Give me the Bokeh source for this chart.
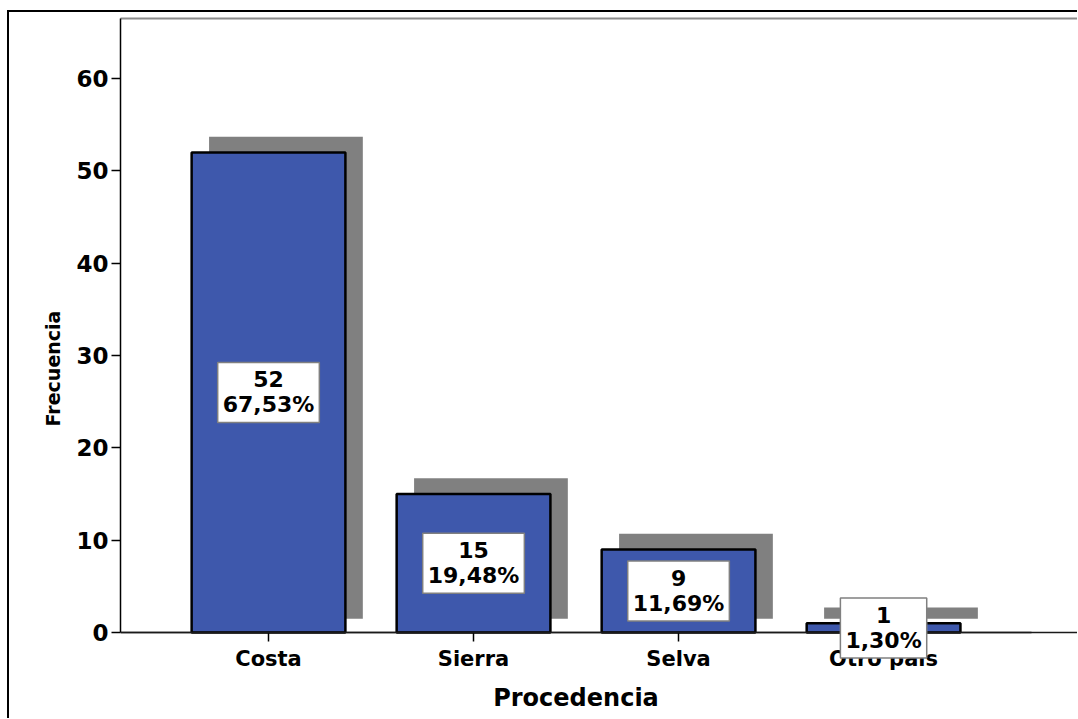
from bokeh.plotting import figure
from bokeh.models import Range1d, Label, FixedTicker, LinearAxis, Span, Title
from bokeh.embed import file_html
from bokeh.resources import INLINE

# Frequency of respondents by place of origin
categories = ["Costa", "Sierra", "Selva", "Otro país"]
counts = [52, 15, 9, 1]
percents = ["67,53%", "19,48%", "11,69%", "1,30%"]
y_ticks = [0, 10, 20, 30, 40, 50, 60]

FONT = "DejaVu Sans"
BAR_BLUE = "#3E58AC"
SHADOW = "#808080"

xs = list(range(len(categories)))
X_START, X_END = -0.722, 3.946
Y_START, Y_END = -9.31, 66.5

p = figure(
    frame_width=957, frame_height=700,
    min_border_left=111, min_border_top=6, min_border_right=0, min_border_bottom=0,
    x_range=Range1d(X_START, X_END), y_range=Range1d(Y_START, Y_END),
    output_backend="svg", toolbar_location=None,
)
p.styles = {
    "border-left": "2px solid #000000",
    "border-top": "2px solid #000000",
    "margin-left": "7px",
    "margin-top": "10px",
}

xa = p.below[0]
ya = p.left[0]

p.xgrid.visible = False
p.ygrid.visible = False
p.outline_line_color = None

# frame edges: dark grey on top, faint grey on the right
top_edge = LinearAxis(ticker=FixedTicker(ticks=[]), axis_line_color="#8c8c8c",
                      axis_line_width=2, major_tick_line_color=None,
                      minor_tick_line_color=None, major_label_text_font_size="0px")
p.add_layout(top_edge, "above")
right_edge = LinearAxis(ticker=FixedTicker(ticks=[]), axis_line_color="#d4d4d4",
                        axis_line_width=1, major_tick_line_color=None,
                        minor_tick_line_color=None, major_label_text_font_size="0px")
p.add_layout(right_edge, "right")

# drop shadows, shifted up and to the right of each bar
p.vbar(x=[x + 0.085 for x in xs], width=0.75,
       bottom=1.5, top=[c + 1.7 for c in counts],
       fill_color=SHADOW, line_color=None)
# bars
p.vbar(x=xs, width=0.75, bottom=0, top=counts,
       fill_color=BAR_BLUE, line_color="#000000", line_width=2.5)

# baseline across the full width of the frame
p.add_layout(Span(location=0, dimension="width", line_color="#1a1a1a", line_width=1.5))

# value boxes centred at half of each bar
for x, c, pct in zip(xs, counts, percents):
    p.add_layout(Label(
        x=x, y=c / 2, text=f"{c}\n{pct}",
        text_align="center", text_baseline="middle",
        text_font=FONT, text_font_style="bold", text_font_size="22px",
        text_color="#000000", text_line_height=1.0,
        background_fill_color="#ffffff",
        border_line_color="#808080", border_line_width=1.5,
        padding=5,
    ))

# x axis sits on the zero line
xa.fixed_location = 0
xa.bounds = (X_START, 2 * 1.5 - X_START)
ya.bounds = (0, Y_END)
xa.ticker = FixedTicker(ticks=xs)
xa.major_label_overrides = {x: c for x, c in zip(xs, categories)}
ya.ticker = FixedTicker(ticks=y_ticks)
for ax in (xa, ya):
    ax.minor_tick_line_color = None
    ax.axis_line_color = "#000000"
    ax.axis_line_width = 1.5
    ax.major_tick_line_color = "#000000"
    ax.major_tick_line_width = 1.5
    ax.major_tick_in = 0
    ax.major_tick_out = 9
    ax.major_label_text_font = FONT
    ax.major_label_text_font_style = "bold"
    ax.major_label_text_color = "#000000"
    ax.axis_label_text_font = FONT
    ax.axis_label_text_font_style = "bold"
    ax.axis_label_text_color = "#000000"
xa.axis_line_color = "#1a1a1a"
xa.major_label_text_font_size = "21px"
ya.major_label_text_font_size = "23px"
xa.major_label_standoff = 5
ya.major_label_standoff = 3

xa.axis_label = "Procedencia"
xa.axis_label_text_font_size = "24px"
xa.axis_label_standoff = 10

# y axis title, raised to the middle of the value scale
p.add_layout(Title(
    text="Frecuencia", align="center", offset=28, standoff=20,
    text_font=FONT, text_font_style="bold", text_font_size="19px",
    text_color="#000000",
), "left")

open("out.html", "w").write(file_html(p, INLINE))
